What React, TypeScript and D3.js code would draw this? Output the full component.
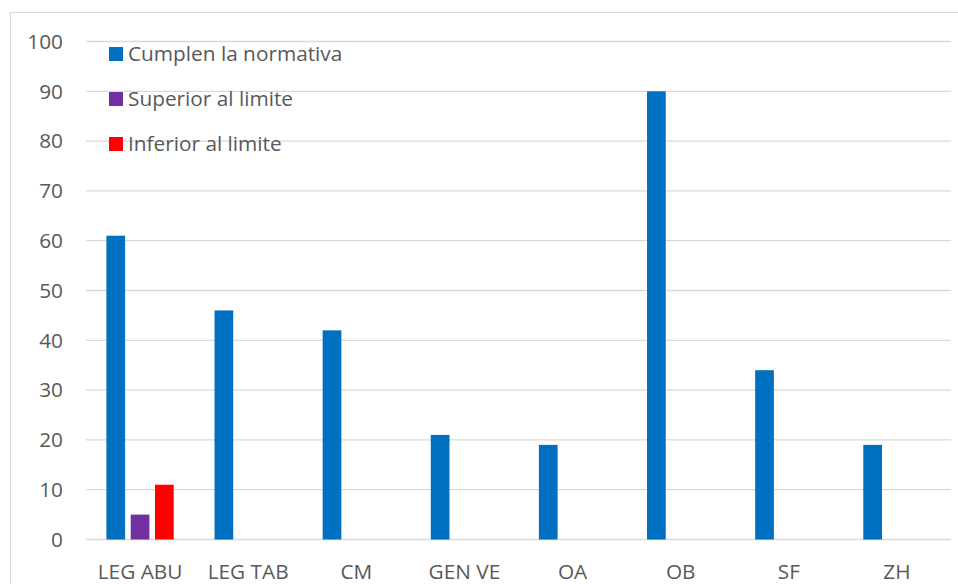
import React from "react";
import * as d3 from "d3";

const categories = ["LEG ABU", "LEG TAB", "CM", "GEN VE", "OA", "OB", "SF", "ZH"];
const seriesNames = ["Cumplen la normativa", "Superior al limite", "Inferior al limite"];
const cumplen = [61, 46, 42, 21, 19, 90, 34, 19];
const superior = [5, 0, 0, 0, 0, 0, 0, 0];
const inferior = [11, 0, 0, 0, 0, 0, 0, 0];
const yTicks = [0, 10, 20, 30, 40, 50, 60, 70, 80, 90, 100];

const colors = ["#0070C0", "#7030A0", "#FF0000"];
const W = 958;
const H = 584;
const FONT = "'Open Sans', 'Liberation Sans', sans-serif";
const TEXT = "#595959";
const GRID = "#D9D9D9";
const FS = 20.8;

export default function App() {
  const plot = { left: 86, right: 951, top: 41.5, bottom: 539.5 };
  const x = d3.scaleBand<string>().domain(categories).range([plot.left, plot.right]).paddingInner(0).paddingOuter(0);
  const y = d3.scaleLinear().domain([0, 100]).range([plot.bottom, plot.top]);
  const inner = d3
    .scaleBand<string>()
    .domain(seriesNames)
    .range([20.4, x.bandwidth() - 20.4])
    .paddingInner(0.23)
    .paddingOuter(0);
  const series = [cumplen, superior, inferior];

  return (
    <div style={{ position: "fixed", left: 0, top: 0 }}>
      <svg width={W} height={H} style={{ display: "block", background: "#fff" }}>
        <rect x={10.5} y={12.5} width={W + 10} height={H + 10} fill="#fff" stroke={GRID} strokeWidth={1} />
        {yTicks.map((t) => (
          <g key={t}>
            <line x1={plot.left} x2={plot.right} y1={y(t)} y2={y(t)} stroke={GRID} strokeWidth={1.3} />
            <text x={63} y={y(t)} dy="0.35em" textAnchor="end" fontFamily={FONT} fontSize={FS} fill={TEXT}>
              {t}
            </text>
          </g>
        ))}
        {categories.map((c, i) => (
          <g key={c}>
            {series.map((vals, s) =>
              vals[i] > 0 ? (
                <rect
                  key={s}
                  x={(x(c) as number) + (inner(seriesNames[s]) as number)}
                  y={y(vals[i])}
                  width={inner.bandwidth()}
                  height={y(0) - y(vals[i])}
                  fill={colors[s]}
                />
              ) : null
            )}
            <text
              x={(x(c) as number) + x.bandwidth() / 2}
              y={572}
              dy="0.35em"
              textAnchor="middle"
              fontFamily={FONT}
              fontSize={FS}
              fill={TEXT}
            >
              {c}
            </text>
          </g>
        ))}
        {seriesNames.map((n, s) => (
          <g key={n} transform={`translate(109, ${54 + s * 45})`}>
            <rect x={0} y={-7} width={14} height={14} fill={colors[s]} />
            <text x={19} y={0} dy="0.35em" fontFamily={FONT} fontSize={FS} fill={TEXT}>
              {n}
            </text>
          </g>
        ))}
      </svg>
    </div>
  );
}
